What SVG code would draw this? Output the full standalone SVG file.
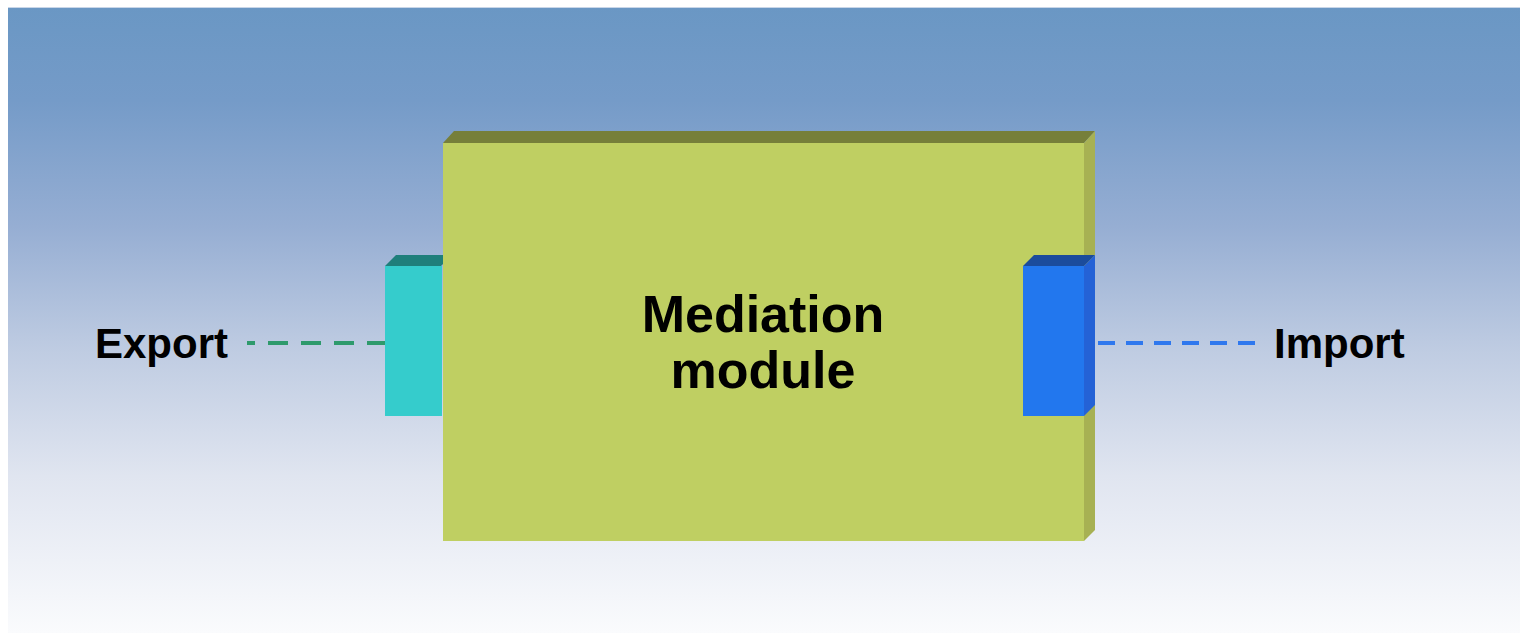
<svg xmlns="http://www.w3.org/2000/svg" width="1520" height="633" viewBox="0 0 1520 633">
  <defs>
    <linearGradient id="bg" x1="0" y1="0" x2="0" y2="1">
      <stop offset="0" stop-color="#6a97c4"/>
      <stop offset="0.15" stop-color="#759bc8"/>
      <stop offset="0.35" stop-color="#96aed3"/>
      <stop offset="0.55" stop-color="#bfcce2"/>
      <stop offset="0.75" stop-color="#e0e5f0"/>
      <stop offset="1" stop-color="#fafbfd"/>
    </linearGradient>
    <style>
      .lbl { font-family: "Liberation Sans", Arial, sans-serif; font-weight: bold; fill: #000; }
      .side { font-size: 42px; }
      .title { font-size: 52px; text-anchor: middle; }
      .conn { fill: none; stroke-width: 4; }
    </style>
  </defs>
  <rect x="0" y="0" width="1520" height="633" fill="#ffffff"/>
  <rect x="8" y="7" width="1512" height="626" fill="url(#bg)"/>
  <line x1="8" y1="7.5" x2="1520" y2="7.5" stroke="#c9d6e8" stroke-width="1"/>

  <g id="connectors">
    <line class="conn" x1="247" y1="343" x2="385" y2="343" stroke="#2e9a6c" stroke-dasharray="8 13 20 13 20 13 20 13 20 13 20"/>
    <line class="conn" x1="1098" y1="343" x2="1256" y2="343" stroke="#2f78ee" stroke-dasharray="17 11"/>
  </g>

  <g id="export-port">
    <polygon points="385,266 396,255 452,255 441,266" fill="#1f7f7b"/>
    <rect x="385" y="266" width="57" height="150" fill="#35cccc"/>
  </g>

  <g id="mediation-module">
    <polygon points="443,143 454,131 1095,131 1084,143" fill="#767f3a"/>
    <polygon points="1084,143 1095,131 1095,530 1084,541" fill="#a7b153"/>
    <rect x="443" y="143" width="641" height="398" fill="#bfcf62"/>
    <text class="lbl title" x="763" y="332">Mediation</text>
    <text class="lbl title" x="763" y="388">module</text>
  </g>

  <g id="import-port">
    <polygon points="1023,266 1034,255 1095,255 1084,266" fill="#1b4c9c"/>
    <polygon points="1084,266 1095,255 1095,405 1084,416" fill="#2462d6"/>
    <rect x="1023" y="266" width="61" height="150" fill="#2277ee"/>
  </g>

  <g id="export-label">
    <text class="lbl side" x="95" y="358">Export</text>
  </g>
  <g id="import-label">
    <text class="lbl side" x="1274" y="358">Import</text>
  </g>
</svg>
